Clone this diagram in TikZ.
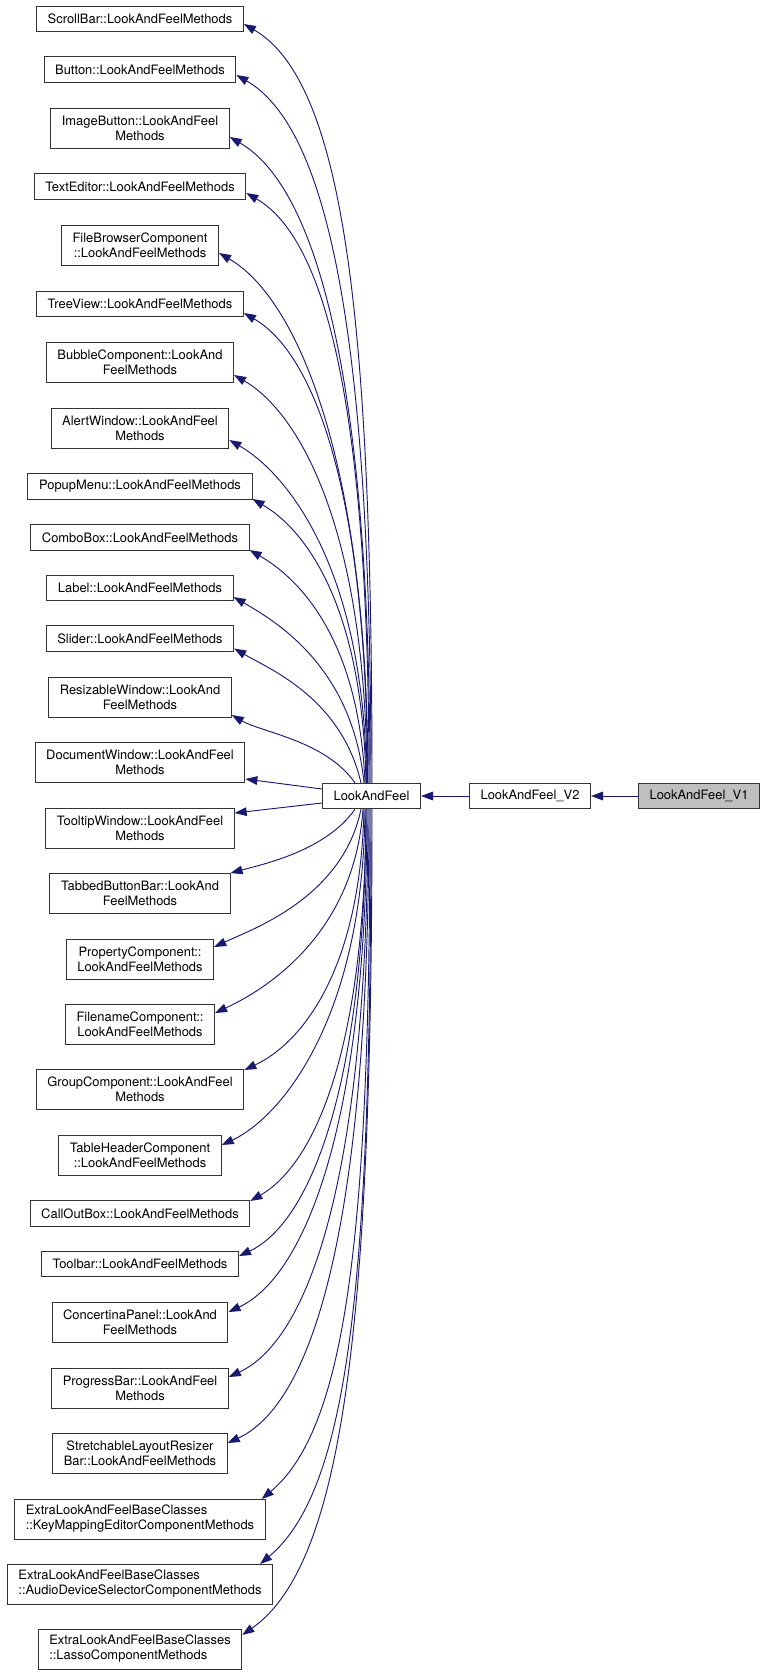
\documentclass[tikz,border=0pt]{standalone}
\usepackage{fontspec}
\setmainfont{TeX Gyre Heros}
\usetikzlibrary{arrows.meta,calc}
\definecolor{linkblue}{HTML}{191970}
\begin{document}
\begin{tikzpicture}
            [
                x = 0.75pt, y = -0.75pt,
                cls/.style     = {shape=rectangle, draw=black!80, line width=0.75pt,
                align=center, font=\fontsize{9.7}{11.2}\selectfont,
                inner xsep=8.3pt, inner ysep=2pt, minimum height=19pt},
                twoline/.style = {minimum height=30pt},
                inherit/.style = {draw=linkblue, line width=0.7pt,
                -{Triangle[length=9pt,width=6.5pt]}}
            ]
            \useasboundingbox (0,0) rectangle (765,1675);
            \node[cls] (scrollbar) at (140,19) {ScrollBar::LookAndFeelMethods};
            \node[cls] (button) at (140,69.5) {Button::LookAndFeelMethods};
            \node[cls, twoline] (imagebutton) at (140,128) {ImageButton::LookAndFeel\\Methods};
            \node[cls] (texteditor) at (140,186.5) {TextEditor::LookAndFeelMethods};
            \node[cls, twoline] (filebrowser) at (140,245) {FileBrowserComponent\\::LookAndFeelMethods};
            \node[cls] (treeview) at (140,304) {TreeView::LookAndFeelMethods};
            \node[cls, twoline] (bubble) at (140,362) {BubbleComponent::LookAnd\\FeelMethods};
            \node[cls, twoline] (alertwin) at (140,428) {AlertWindow::LookAndFeel\\Methods};
            \node[cls] (popupmenu) at (140,486.5) {PopupMenu::LookAndFeelMethods};
            \node[cls] (combobox) at (140,537.5) {ComboBox::LookAndFeelMethods};
            \node[cls] (label) at (140,588) {Label::LookAndFeelMethods};
            \node[cls] (slider) at (140,638.5) {Slider::LookAndFeelMethods};
            \node[cls, twoline] (resizable) at (140,697) {ResizableWindow::LookAnd\\FeelMethods};
            \node[cls, twoline] (docwin) at (140,762) {DocumentWindow::LookAndFeel\\Methods};
            \node[cls, twoline] (tooltip) at (140,828) {TooltipWindow::LookAndFeel\\Methods};
            \node[cls, twoline] (tabbar) at (140,893) {TabbedButtonBar::LookAnd\\FeelMethods};
            \node[cls, twoline] (property) at (140,959) {PropertyComponent::\\LookAndFeelMethods};
            \node[cls, twoline] (filename) at (140,1024) {FilenameComponent::\\LookAndFeelMethods};
            \node[cls, twoline] (group) at (140,1089) {GroupComponent::LookAndFeel\\Methods};
            \node[cls, twoline] (tableheader) at (140,1155) {TableHeaderComponent\\::LookAndFeelMethods};
            \node[cls] (callout) at (140,1213.5) {CallOutBox::LookAndFeelMethods};
            \node[cls] (toolbar) at (140,1264) {Toolbar::LookAndFeelMethods};
            \node[cls, twoline] (concertina) at (140,1322) {ConcertinaPanel::LookAnd\\FeelMethods};
            \node[cls, twoline] (progress) at (140,1388) {ProgressBar::LookAndFeel\\Methods};
            \node[cls, twoline] (stretch) at (140,1453) {StretchableLayoutResizer\\Bar::LookAndFeelMethods};
            \node[cls, twoline, align=left] (keymap) at (140,1519) {ExtraLookAndFeelBaseClasses\\::KeyMappingEditorComponentMethods};
            \node[cls, twoline, align=left] (audiodev) at (140,1584) {ExtraLookAndFeelBaseClasses\\::AudioDeviceSelectorComponentMethods};
            \node[cls, twoline, align=left] (lasso) at (140,1649) {ExtraLookAndFeelBaseClasses\\::LassoComponentMethods};

            \node[cls] (laf) at (371.5,796) {LookAndFeel};
            \node[cls] (v2) at (530,796) {LookAndFeel\_V2};
            \node[cls, fill=black!25] (v1) at (699,796) {LookAndFeel\_V1};

            \draw[inherit] (v1) -- (v2);
            \draw[inherit] (v2) -- (laf);
            \draw[inherit] ($(laf.west)+(0,-7)$) -- ($(docwin.east)+(0,17)$);
            \draw[inherit] ($(laf.west)+(0,7)$) -- ($(tooltip.east)+(0,-15)$);

            \foreach \n/\y/\dx/\ey in {scrollbar/19/0.5/5, button/69.5/-0.5/5.5,
                imagebutton/128/-1.5/9, texteditor/186.5/-2.5/6.5, filebrowser/245/-3.5/8,
                treeview/304/-4/9, bubble/362/-4.5/13, alertwin/428/-5/12,
                popupmenu/486.5/-5.5/12.5, combobox/537.5/-6.5/12.5, label/588/-7.5/9,
                slider/638.5/-10.5/10, resizable/697/-16.5/18}
            {
                \pgfmathsetmacro\da{0.6*(783-\y)}
                \pgfmathsetmacro\db{0.12*(783-\y)+25}
                \pgfmathsetmacro\o{-90-35*exp(-(697-\y)/60)}
                \draw[inherit] ($(laf.north)+(\dx,0)$) .. controls +(\o:\da) and +(30:\db) .. ($(\n.east)+(0,\ey)$);
            }

            \foreach \n/\y/\dx/\ex/\ey/\a in {tabbar/893/-16.5/0/-20/-15, property/959/-10.5/0/-12/-25,
                filename/1024/-8.5/0/-11/-25, group/1089/-7.5/0/-19/-25,
                tableheader/1155/-6.5/0/-10/-25, callout/1213.5/-5.5/0/-12.5/-30,
                toolbar/1264/-5.5/0/-8/-25, concertina/1322/-4.5/0/-10/-25,
                progress/1388/-3.5/0/-11/-25, stretch/1453/-2.5/0/-10/-25,
                keymap/1519/-1.5/-4/-20/-40, audiodev/1584/-0.5/-13/-20/-40,
                lasso/1649/0.5/0/-14/-35}
            {
                \pgfmathsetmacro\da{0.6*(\y-809)}
                \pgfmathsetmacro\db{0.12*(\y-809)+25}
                \pgfmathsetmacro\o{90+35*exp(-(\y-893)/60)}
                \draw[inherit] ($(laf.south)+(\dx,0)$) .. controls +(\o:\da) and +(\a:\db) .. ($(\n.east)+(\ex,\ey)$);
            }
        \end{tikzpicture}
\end{document}
